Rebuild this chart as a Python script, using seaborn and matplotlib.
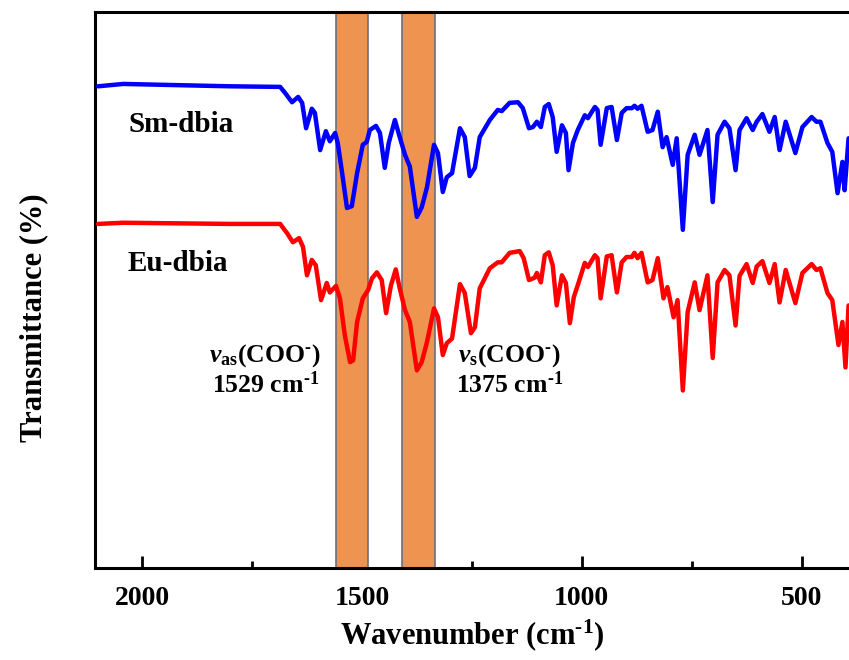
import numpy as np
import pandas as pd
import seaborn as sns
import matplotlib.pyplot as plt
from matplotlib.ticker import MultipleLocator

# --- data (wavenumber in cm-1, transmittance in %) ---
sm_wn = [2100, 2043, 1800, 1686, 1675, 1659, 1645, 1636, 1627, 1614, 1607, 1595, 1582,
         1573, 1561, 1555, 1545, 1534, 1523, 1511, 1498, 1489, 1482, 1468, 1459, 1448,
         1439, 1425, 1414, 1402, 1391, 1375, 1364, 1352, 1336, 1327, 1316, 1307, 1295,
         1277, 1266, 1255, 1243, 1232, 1209, 1191, 1182, 1164, 1145, 1134, 1120, 1111,
         1102, 1093, 1084, 1075, 1066, 1057, 1045, 1036, 1030, 1020, 1009, 993, 986,
         970, 964, 957, 943, 932, 920, 909, 898, 886, 880, 873, 864, 850, 839, 827,
         816, 807, 793, 784, 770, 759, 743, 732, 714, 702, 691, 675, 664, 650, 641,
         625, 611, 602, 589, 573, 561, 550, 536, 514, 498, 477, 466, 457, 441, 430,
         418, 407, 402, 393]
sm_t = [87.4, 87.8, 87.4, 87.3, 86.3, 84.7, 85.6, 84.6, 80.3, 83.6, 82.9, 76.6, 79.8,
        78.1, 79.5, 77.8, 72.7, 66.8, 67.1, 72.7, 77.5, 78.0, 80.0, 80.7, 79.5, 73.6,
        77.8, 81.7, 78.8, 75.8, 73.8, 65.3, 66.9, 70.3, 77.5, 76.1, 69.5, 72.0, 72.7,
        80.3, 78.8, 72.2, 73.6, 78.8, 81.7, 83.4, 83.2, 84.6, 84.7, 83.7, 80.3, 80.5,
        81.4, 80.5, 83.9, 84.4, 82.2, 76.3, 80.8, 79.5, 73.2, 77.8, 80.0, 82.5, 82.0,
        83.9, 83.4, 77.5, 83.7, 83.9, 78.3, 82.9, 83.7, 83.7, 84.1, 83.6, 84.1, 79.7,
        80.0, 83.1, 77.1, 78.8, 74.1, 78.6, 63.1, 75.8, 79.2, 75.8, 80.0, 67.8, 79.2,
        81.4, 80.3, 73.2, 80.0, 82.0, 80.0, 81.4, 82.7, 79.7, 82.2, 76.6, 81.4, 76.1,
        80.5, 82.2, 81.4, 81.4, 77.8, 76.3, 69.3, 74.6, 69.8, 78.6]

eu_wn = [2100, 2043, 1800, 1686, 1670, 1657, 1643, 1634, 1625, 1614, 1605, 1593, 1580,
         1573, 1559, 1550, 1539, 1527, 1520, 1511, 1498, 1486, 1477, 1466, 1455, 1445,
         1434, 1423, 1414, 1402, 1391, 1375, 1364, 1352, 1336, 1327, 1316, 1307, 1295,
         1277, 1266, 1252, 1243, 1232, 1209, 1191, 1182, 1164, 1141, 1132, 1120, 1107,
         1102, 1093, 1084, 1075, 1066, 1057, 1045, 1036, 1027, 1018, 1007, 993, 986,
         970, 964, 957, 943, 932, 920, 909, 898, 886, 880, 873, 864, 850, 839, 827,
         814, 805, 791, 782, 770, 759, 743, 732, 714, 702, 691, 675, 664, 650, 641,
         625, 611, 602, 589, 573, 561, 550, 536, 514, 498, 477, 466, 457, 441, 430,
         416, 407, 400, 393]
eu_t = [64.1, 64.3, 64.1, 64.1, 62.5, 61.0, 61.7, 60.2, 55.4, 58.0, 57.1, 51.2, 54.1,
        52.5, 53.6, 51.5, 45.3, 40.7, 41.0, 47.5, 51.5, 52.9, 54.9, 55.9, 54.6, 49.0,
        53.7, 56.4, 53.2, 49.5, 47.5, 39.3, 40.7, 44.1, 49.8, 48.3, 41.9, 43.9, 44.7,
        53.9, 52.4, 45.6, 46.6, 53.2, 56.6, 57.6, 57.6, 59.2, 59.5, 58.3, 54.6, 55.0,
        55.8, 54.2, 58.8, 59.3, 57.1, 50.3, 55.4, 54.1, 47.3, 51.7, 54.2, 57.5, 56.8,
        58.8, 58.3, 51.5, 58.6, 58.8, 52.5, 57.6, 58.5, 58.5, 59.2, 58.3, 59.2, 54.2,
        54.6, 58.3, 51.5, 53.4, 48.3, 51.2, 35.9, 49.2, 54.2, 49.5, 55.4, 41.4, 54.2,
        56.3, 55.4, 46.9, 55.3, 57.3, 54.1, 56.9, 57.8, 54.1, 57.3, 50.8, 56.3, 50.7,
        55.8, 57.3, 56.3, 56.6, 52.4, 51.2, 43.6, 47.5, 39.8, 50.3]

bands = [(1559, 1486), (1409, 1334)]
labels = ["Sm-dbia", "Eu-dbia"]

sns.set_style("white")
plt.rcParams['font.family'] = ['Liberation Serif', 'DejaVu Serif']
plt.rcParams['font.weight'] = 'bold'
plt.rcParams['text.color'] = 'black'
plt.rcParams['axes.labelcolor'] = 'black'
plt.rcParams['xtick.color'] = 'black'
plt.rcParams['mathtext.fontset'] = 'custom'
plt.rcParams['mathtext.rm'] = 'Liberation Serif:bold'
plt.rcParams['mathtext.it'] = 'Liberation Serif:italic:bold'
plt.rcParams['mathtext.bf'] = 'Liberation Serif:bold'

fig = plt.figure(figsize=(8.49, 6.6), dpi=100)
ax = fig.add_axes([0.112, 0.139, 0.888, 0.843])

for lo, hi in bands:
    ax.axvspan(lo, hi, facecolor='#EF9450', edgecolor='#6E6E80', linewidth=1.2, zorder=1)

line_kw = dict(linewidth=3.2, estimator=None, ax=ax, zorder=3,
               solid_joinstyle='round', solid_capstyle='round')
sns.lineplot(x=sm_wn, y=sm_t, color='#0000FF', **line_kw)
sns.lineplot(x=eu_wn, y=eu_t, color='#FF0000', **line_kw)

ax.set_xlim(2107, 392)
ax.set_ylim(5.8, 100)
ax.set_yticks([])
ax.xaxis.set_major_locator(MultipleLocator(500))
ax.xaxis.set_minor_locator(MultipleLocator(250))
ax.tick_params(axis='x', which='major', direction='in', bottom=True, length=9, width=2,
               labelsize=20, pad=13)
ax.tick_params(axis='x', which='minor', direction='in', bottom=True, length=5, width=2)
for lab in ax.get_xticklabels():
    lab.set_fontweight('bold')

for side in ['left', 'bottom', 'top']:
    ax.spines[side].set_linewidth(2.2)
    ax.spines[side].set_color('black')
ax.spines['right'].set_visible(False)

ax.set_xlabel('Wavenumber (cm$^{\u2010 1}$)', fontsize=22, fontweight='bold', labelpad=4)
ax.set_ylabel('Transmittance (%)', fontsize=22, fontweight='bold')
ax.yaxis.set_label_coords(-0.062, 0.45)

ax.text(2032, 81.0, labels[0], fontsize=21, fontweight='bold', ha='left', va='center')
ax.text(2032, 57.4, labels[1], fontsize=21, fontweight='bold', ha='left', va='center')
ax.text(1720, 39.3, '$v_{\\mathrm{as}}$(COO$^{\u2010}$)\n1529 cm$^{\u20101}$', fontsize=18.5,
        ha='center', va='center', multialignment='center', linespacing=1.1)
ax.text(1165, 39.3, '$v_{\\mathrm{s}}$(COO$^{\u2010}$)\n1375 cm$^{\u20101}$', fontsize=18.5,
        ha='center', va='center', multialignment='center', linespacing=1.1)

fig.savefig('out.png', dpi=100)
